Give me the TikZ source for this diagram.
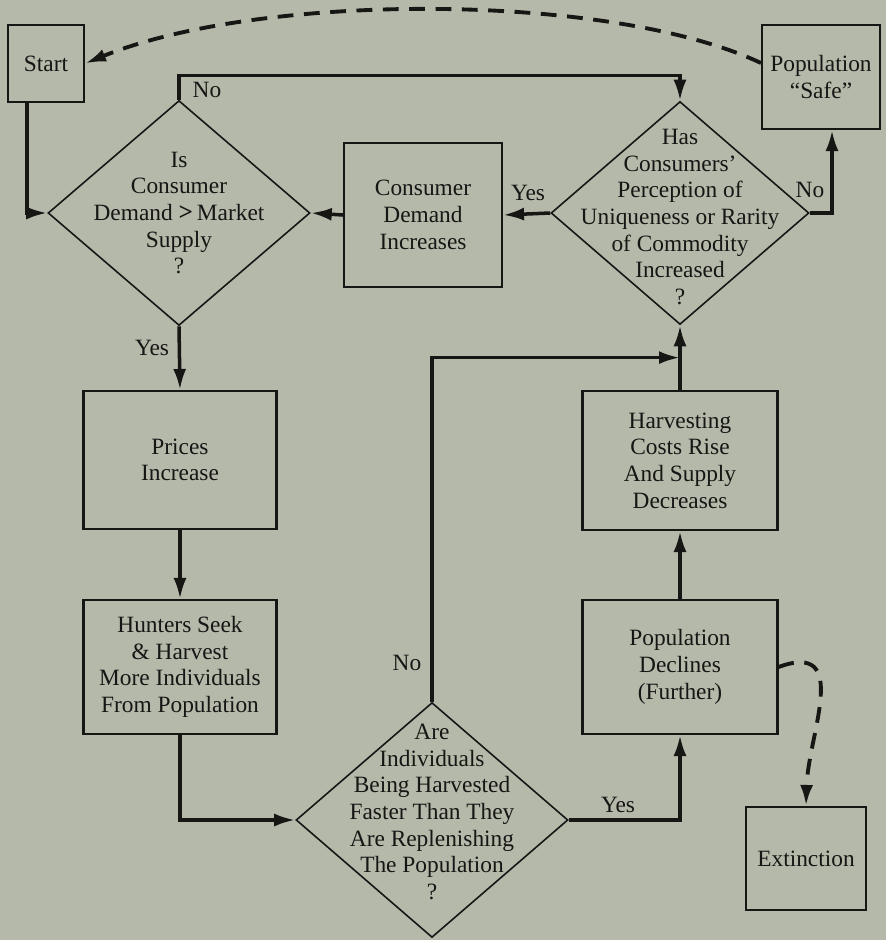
\documentclass[tikz,border=0pt]{standalone}
\usepackage{fontspec}
\setmainfont{Liberation Serif}
\usetikzlibrary{shapes.geometric, arrows.meta, calc}

\definecolor{paper}{RGB}{181,185,170}
\definecolor{ink}{RGB}{22,22,20}

\tikzset{%
  % Specifications for style of nodes:
         box/.style = {rectangle, draw = ink, line width=1.2pt, inner sep=0pt, align=center},
    decision/.style = {diamond, draw = ink, line width=0.9pt, inner sep=0pt},
       query/.style = {align=center, inner sep=0pt},
       label/.style = {inner sep=0pt},
  % Specifications for style of arrows:
        flow/.style = {line width=2pt, draw=ink, -{Latex[length=4.2mm,width=2.6mm]}},
    dashflow/.style = {flow, line width=2.2pt, dash pattern=on 9pt off 6pt},
}

\begin{document}
\begin{tikzpicture}[x=0.02cm, y=-0.02cm, every node/.style={font=\fontsize{13.3}{15.2}\selectfont, text=ink}]
    \fill[paper] (0,0) rectangle (886,940);
    \useasboundingbox (0,0) rectangle (886,940);

    % Draw nodes
    \node (start)    [box, minimum width=1.52cm, minimum height=1.54cm] at (46,63.5)  {Start};
    \node (safe)     [box, minimum width=2.36cm, minimum height=2.08cm] at (821,77)   {Population\\``Safe''};
    \node (isdemand) [decision, minimum width=5.24cm, minimum height=4.5cm] at (179,213) {};
    \node            [query] at (179,213) {Is\\Consumer\\Demand {\Large\textbf{>}}\,Market\\Supply\\?};
    \node (consumer) [box, minimum width=3.16cm, minimum height=2.88cm] at (423,215)  {Consumer\\Demand\\Increases};
    \node (perc)     [decision, minimum width=5.16cm, minimum height=4.46cm] at (680,213) {};
    \node            [query] at (680,217) {Has\\Consumers'\\Perception of\\Uniqueness or Rarity\\of Commodity\\Increased\\?};
    \node (prices)   [box, minimum width=3.86cm, minimum height=2.76cm] at (180,460)  {Prices\\Increase};
    \node (hunters)  [box, minimum width=3.86cm, minimum height=2.68cm] at (180,667)  {Hunters Seek\\\& Harvest\\More Individuals\\From Population};
    \node (harvest)  [box, minimum width=3.9cm, minimum height=2.78cm]  at (680,460.5) {Harvesting\\Costs Rise\\And Supply\\Decreases};
    \node (declines) [box, minimum width=3.9cm, minimum height=2.68cm]  at (680,667)  {Population\\Declines\\(Further)};
    \node (faster)   [decision, minimum width=5.44cm, minimum height=4.7cm] at (432,820) {};
    \node            [query] at (432,812) {Are\\Individuals\\Being Harvested\\Faster Than They\\Are Replenishing\\The Population\\?};
    \node (extinct)  [box, minimum width=2.4cm, minimum height=2.06cm]  at (806,858.5) {Extinction};

    % Draw arrows
    \draw[flow] ($(start.south)+(-19,0)$) |- (isdemand.west);
    \draw[flow] (isdemand.north) -- ++(0,-24) -| (perc.north);
    \draw[flow] (consumer.west) -- (isdemand.east);
    \draw[flow] (perc.west) -- (consumer.east);
    \draw[flow] (perc.east) -| ($(safe.south)+(11,0)$);
    \draw[flow] (isdemand.south) -- (prices.north);
    \draw[flow] (prices.south) -- (hunters.north);
    \draw[flow] (hunters.south) |- (faster.west);
    \coordinate (join) at ($(harvest.north)!0.5!(perc.south)$);
    \draw[flow] (faster.north) |- (join);
    \draw[flow] (harvest.north) -- (perc.south);
    \draw[flow] (declines.north) -- (harvest.south);
    \draw[flow] (faster.east) -| (declines.south);

    \draw[dashflow] ($(safe.west)+(0,-14)$) .. controls (610,-8) and (260,-8) .. (start.east);
    \draw[dashflow] (declines.east) .. controls (852,640) and (808,735) .. (extinct.north);

    % Draw labels
    \node (no1)  [label] at (207,90)  {No};
    \node (yes1) [label] at (528,193) {Yes};
    \node (no2)  [label] at (810,190) {No};
    \node (yes2) [label] at (152,348) {Yes};
    \node (no3)  [label] at (407,663) {No};
    \node (yes3) [label] at (618,805) {Yes};

\end{tikzpicture}
\end{document}
